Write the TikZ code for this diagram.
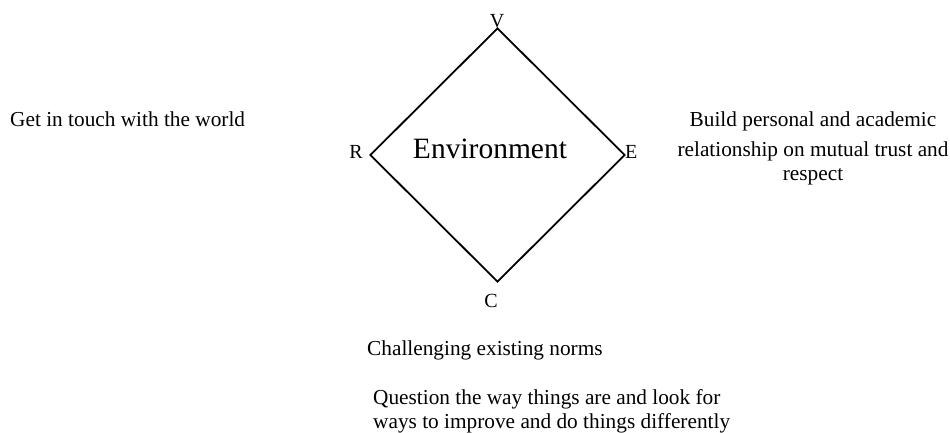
\documentclass[tikz,border=0pt]{standalone}
\usepackage{fontspec}
\setmainfont{Liberation Serif}
\usetikzlibrary{shapes.geometric}

\begin{document}
\begin{tikzpicture}[x=1pt,y=-1pt,
		txt/.style={inner sep=0pt,font=\fontsize{21.3}{23.3}\selectfont},
		corner/.style={inner sep=0pt,font=\fontsize{20}{22}\selectfont}]
		\useasboundingbox (0,0) rectangle (950,433);

		% Diamond with its name
		\node[diamond,draw,line width=1.8pt,minimum width=255pt,minimum height=254pt,inner sep=0pt] (env) at (497.5,155) {};
		\node[txt,font=\fontsize{29.5}{32}\selectfont,anchor=base] (envname) at (490,158) {Environment};

		% Corner letters
		\node[corner,anchor=base] (v) at (497,28) {V};
		\node[corner,anchor=base east] (r) at (363,158) {R};
		\node[corner,anchor=base west] (e) at (625,158) {E};
		\node[corner,anchor=base] (c) at (491,307) {C};

		% Texts around the diamond (base = last line)
		\node[txt,anchor=base west] (world) at (10,126.7) {Get in touch with the world};
		\node[txt,anchor=base,align=center] (trust) at (813,180) {Build personal and academic\\[6.7pt] relationship on mutual trust and\\ respect};
		\node[txt,anchor=base west] (norms) at (367,355) {Challenging existing norms};
		\node[txt,anchor=base west,align=left] (question) at (373,428) {Question the way things are and look for\\ ways to improve and do things differently};
	\end{tikzpicture}
\end{document}
